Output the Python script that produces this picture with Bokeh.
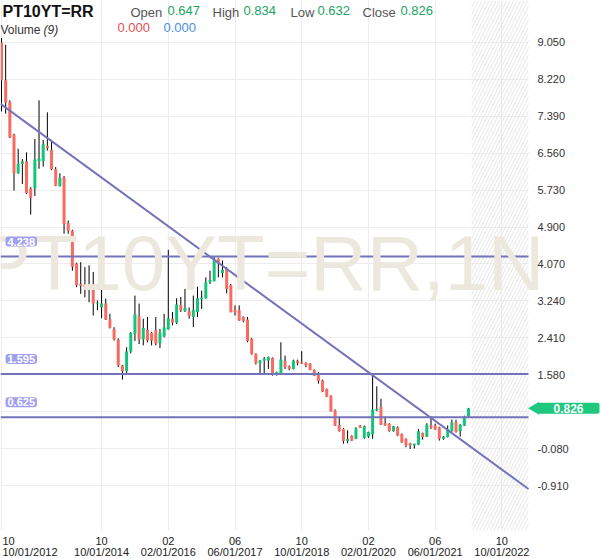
import math
import pandas as pd
from bokeh.plotting import figure
from bokeh.models import (Range1d, FixedTicker, Label, ColumnDataSource, LinearAxis,
                          PrintfTickFormatter)
from bokeh.embed import file_html
from bokeh.resources import INLINE

# ---------------- data ----------------
months = pd.date_range("2012-10-01", periods=113, freq="MS")

opens = [9.05, 8.20, 7.71, 6.98, 6.11, 6.32, 6.38, 5.77, 5.77, 6.38,
         6.38, 6.73, 6.64, 6.20, 5.82, 6.02, 4.99, 4.82, 4.08, 3.62,
         3.60, 3.60, 3.59, 3.18, 3.09, 3.18, 2.83, 2.61, 2.37, 1.79,
         1.66, 2.10, 2.50, 2.90, 2.37, 2.59, 2.52, 2.58, 2.29, 2.44,
         2.60, 2.84, 2.75, 3.14, 3.01, 3.01, 2.88, 2.99, 3.27, 3.30,
         3.66, 3.68, 4.19, 3.86, 3.96, 3.60, 3.04, 3.03, 2.88, 2.82,
         2.39, 2.05, 1.84, 1.90, 1.90, 1.96, 1.59, 1.60, 1.89, 1.77,
         1.71, 1.90, 1.86, 1.85, 1.83, 1.69, 1.62, 1.45, 1.26, 1.11,
         0.78, 0.45, 0.36, 0.09, 0.21, 0.14, 0.44, 0.16, 0.19, 0.24,
         0.78, 0.85, 0.49, 0.48, 0.31, 0.40, 0.25, 0.14, 0.04, -0.01,
         0.01, 0.27, 0.19, 0.44, 0.44, 0.40, 0.14, 0.18, 0.31, 0.51,
         0.31, 0.44, 0.647]
highs = [9.15, 9.00, 7.75, 7.00, 6.66, 6.43, 6.58, 5.80, 6.88, 7.75,
         6.86, 7.48, 6.86, 6.25, 6.11, 6.05, 5.05, 4.84, 4.10, 4.11,
         4.00, 4.04, 3.89, 3.25, 3.55, 3.29, 2.95, 2.65, 2.40, 1.80,
         2.20, 2.54, 3.36, 3.18, 2.84, 2.88, 2.54, 2.88, 2.61, 2.95,
         4.39, 2.99, 3.30, 3.33, 3.51, 3.09, 3.36, 3.56, 3.47, 3.77,
         3.92, 4.22, 4.20, 4.15, 4.00, 3.62, 3.14, 3.14, 2.89, 2.88,
         2.41, 2.06, 1.91, 1.98, 1.99, 1.97, 1.65, 2.31, 2.01, 1.79,
         1.92, 1.92, 2.11, 1.86, 1.84, 1.70, 1.64, 1.47, 1.27, 1.12,
         0.80, 0.64, 0.38, 0.33, 0.22, 0.40, 0.45, 0.44, 0.30, 1.56,
         1.32, 1.04, 0.64, 0.49, 0.43, 0.42, 0.26, 0.15, 0.05, 0.03,
         0.36, 0.28, 0.49, 0.64, 0.48, 0.41, 0.20, 0.44, 0.57, 0.57,
         0.47, 0.66, 0.834]
lows = [7.50, 7.45, 6.90, 5.72, 6.10, 5.87, 5.64, 5.18, 5.60, 6.21,
        6.26, 6.62, 6.18, 5.82, 5.81, 4.75, 4.75, 3.92, 3.55, 3.40,
        3.32, 3.21, 2.91, 3.03, 2.85, 2.81, 2.62, 2.35, 1.75, 1.47,
        1.58, 2.06, 2.34, 2.27, 2.24, 2.31, 2.24, 2.24, 2.18, 2.42,
        2.60, 2.69, 2.72, 2.99, 2.99, 2.84, 2.65, 2.88, 3.06, 3.29,
        3.62, 3.68, 3.77, 3.77, 3.41, 2.98, 2.91, 2.79, 2.76, 2.31,
        2.03, 1.81, 1.59, 1.59, 1.71, 1.56, 1.56, 1.59, 1.71, 1.68,
        1.70, 1.79, 1.82, 1.75, 1.68, 1.55, 1.38, 1.19, 1.08, 0.75,
        0.43, 0.30, 0.03, 0.04, 0.09, 0.13, 0.38, 0.14, 0.16, 0.14,
        0.76, 0.45, 0.43, 0.30, 0.30, 0.20, 0.05, -0.05, -0.09, -0.08,
        0.00, 0.12, 0.18, 0.36, 0.34, 0.10, 0.12, 0.17, 0.30, 0.28,
        0.19, 0.43, 0.632]
closes = [8.20, 7.70, 6.92, 6.11, 6.32, 6.38, 5.66, 5.56, 6.42, 6.44,
          6.76, 6.68, 6.20, 5.83, 6.01, 4.97, 4.81, 4.01, 3.59, 3.58,
          3.56, 3.57, 3.18, 3.20, 3.18, 2.82, 2.64, 2.37, 1.79, 1.66,
          2.10, 2.52, 2.94, 2.37, 2.63, 2.35, 2.35, 2.28, 2.52, 2.64,
          2.85, 2.75, 3.16, 3.03, 3.08, 2.90, 3.04, 3.30, 3.31, 3.66,
          3.71, 4.16, 4.07, 3.94, 3.51, 2.99, 2.98, 2.80, 2.79, 2.34,
          2.04, 1.84, 1.90, 1.94, 1.98, 1.59, 1.64, 1.92, 1.75, 1.71,
          1.90, 1.84, 1.83, 1.79, 1.69, 1.56, 1.44, 1.20, 1.09, 0.76,
          0.44, 0.31, 0.09, 0.14, 0.10, 0.38, 0.39, 0.42, 0.29, 0.80,
          0.81, 0.46, 0.44, 0.31, 0.42, 0.21, 0.06, -0.01, -0.01, 0.03,
          0.31, 0.18, 0.46, 0.39, 0.35, 0.14, 0.19, 0.36, 0.51, 0.29,
          0.46, 0.64, 0.826]

levels = [4.238, 1.595, 0.625]           # horizontal trend levels
trend_x = [0, 104]                      # diagonal trend anchors (month index)
trend_y = [7.654, 0.541]

y_ticks = [-0.91, -0.08, 0.75, 1.58, 2.41, 3.24, 4.07, 4.90, 5.73, 6.56, 7.39, 8.22, 9.05]
x_ticks = [0, 24, 40, 56, 72, 88, 104, 120]
x_tick_top = ["10", "10", "02", "06", "10", "02", "06", "10"]
x_tick_bottom = ["10/01/2012", "10/01/2014", "02/01/2016", "06/01/2017",
                 "10/01/2018", "02/01/2020", "06/01/2021", "10/01/2022"]

symbol = "PT10YT=RR"
header_vals = {"Open": "0.647", "High": "0.834", "Low": "0.632", "Close": "0.826"}
last_price = closes[-1]

# ---------------- figure ----------------
RED = "#f86b60"
GREEN = "#15c47b"
TXT_GREEN = "#1aa363"
LINE = "#7373ba"
FONT = "Liberation Sans"
W, H = 600, 558

# full-canvas frame; axes pinned inside it with fixed_location
xs, xe = -0.24, 143.65       # data x at canvas left / right
xr = 126.38                  # data x at the right edge of the price area
ys, ye = -2.551, 9.994       # data y at canvas bottom / top
yb = -1.921                  # data y at the bottom edge of the price area
px_per_x = W / (xe - xs)

p = figure(width=W, height=H, output_backend="svg", toolbar_location=None,
           x_range=Range1d(xs, xe), y_range=Range1d(ys, ye),
           x_axis_location=None, y_axis_location=None,
           min_border=0)
p.outline_line_color = None
p.background_fill_color = "white"
p.border_fill_color = "white"

# grids
p.xgrid.ticker = FixedTicker(ticks=x_ticks)
p.ygrid.ticker = FixedTicker(ticks=y_ticks)
p.xgrid.grid_line_color = "#ededed"
p.ygrid.grid_line_color = "#ededed"

# hide the grid outside the price area
p.quad(left=[xr, xs], right=[xe, xr], bottom=[ys, ys], top=[ye, yb],
       fill_color="white", line_color=None)

# future hatched zone
n = len(months)
p.quad(left=[n - 1 + 0.75], right=[xr], bottom=[yb], top=[ye],
       fill_alpha=0, line_alpha=0, hatch_pattern="/", hatch_color="#e6e6e6",
       hatch_scale=7, hatch_weight=1)

# watermark
p.add_layout(Label(x=261, y=H - 262, x_units="screen", y_units="screen", text=symbol + ",1N",
                   text_font=FONT, text_font_size="78px", text_color="#ece8dd",
                   text_align="center", text_baseline="middle", level="glyph"))

# candles
idx = list(range(n))
colors = [GREEN if c >= o else RED for o, c in zip(opens, closes)]
src = ColumnDataSource(dict(x=idx, o=opens, h=highs, l=lows, c=closes, col=colors,
                            top=[max(o, c) for o, c in zip(opens, closes)],
                            bot=[min(o, c) for o, c in zip(opens, closes)]))
p.segment(x0="x", x1="x", y0="l", y1="h", source=src, line_color="black", line_width=1)
p.vbar(x="x", width=0.72, top="top", bottom="bot", source=src,
       fill_color="col", line_color=None)

# trend lines (limited to the price area)
p.segment(x0=[xs] * len(levels), x1=[xr] * len(levels), y0=levels, y1=levels,
          line_color=LINE, line_width=2)
grad = (trend_y[1] - trend_y[0]) / (trend_x[1] - trend_x[0])
icpt = trend_y[0] - grad * trend_x[0]
p.segment(x0=[xs], x1=[xr], y0=[icpt + grad * xs], y1=[icpt + grad * xr],
          line_color=LINE, line_width=2)

for lv in levels:
    p.add_layout(Label(x=xs, y=lv, x_offset=5, y_offset=10, text=f"{lv:.3f}",
                       text_font=FONT, text_font_size="11px", text_font_style="bold",
                       text_color="white", text_baseline="bottom",
                       background_fill_color="#a0a0f3", border_radius=3,
                       padding=(2, 2, 1, 1)))

# y axis (right of price area)
yax = LinearAxis(fixed_location=xr,
                 ticker=FixedTicker(ticks=[t for t in y_ticks if abs(t - 0.75) > 1e-6]),
                 formatter=PrintfTickFormatter(format="%.3f"))
yax.axis_line_color = None
yax.major_tick_line_color = None
yax.minor_tick_line_color = None
yax.major_tick_out = 0
yax.major_label_text_font = FONT
yax.major_label_text_font_size = "11px"
yax.major_label_text_color = "#333333"
yax.major_label_standoff = 9
p.add_layout(yax, "right")

# x axes (two label rows)
for labels, stand in ((x_tick_top, 7), (x_tick_bottom, 16)):
    xax = LinearAxis(fixed_location=yb, ticker=FixedTicker(ticks=x_ticks))
    ov = {t: lab for t, lab in zip(x_ticks, labels)}
    ov[x_ticks[0]] = ""
    xax.major_label_overrides = ov
    xax.axis_line_color = None
    xax.major_tick_line_color = None
    xax.minor_tick_line_color = None
    xax.major_tick_out = 0
    xax.major_label_text_font = FONT
    xax.major_label_text_font_size = "11px"
    xax.major_label_text_color = "#222222"
    xax.major_label_standoff = stand
    p.add_layout(xax, "below")
    # first tick label, left aligned at the canvas edge
    p.add_layout(Label(x=x_ticks[0], y=yb, x_offset=1, y_offset=-stand, text=labels[0],
                       text_font=FONT, text_font_size="11px", text_color="#222222",
                       text_baseline="top"))

# last price label on axis (pointer + box)
p.scatter(x=[xr + 7 / px_per_x], y=[last_price], marker="triangle", size=13,
          angle=math.pi / 2, fill_color="#1ec97f", line_color=None)
p.add_layout(Label(x=568, y=last_price, x_units="screen", text=f"{last_price:.3f}",
                   text_font=FONT, text_font_size="12px", text_font_style="bold",
                   text_color="white", text_align="center", text_baseline="middle",
                   background_fill_color="#1ec97f", border_radius=2,
                   padding=(16, 16, 1, 1)))

# header
p.add_layout(Label(x=2, y=H - 11, x_units="screen", y_units="screen", text=symbol,
                   text_font=FONT, text_font_size="16px", text_font_style="bold",
                   text_color="#111111", text_baseline="middle"))
hx = [(130, 167), (212, 243), (290, 317), (362, 400)]
for (lx, vx), (k, v) in zip(hx, header_vals.items()):
    p.add_layout(Label(x=lx, y=H - 12, x_units="screen", y_units="screen", text=k,
                       text_font=FONT, text_font_size="13px", text_color="#555555",
                       text_baseline="middle"))
    p.add_layout(Label(x=vx, y=H - 10, x_units="screen", y_units="screen", text=v,
                       text_font=FONT, text_font_size="13px", text_color=TXT_GREEN,
                       text_baseline="middle"))
p.add_layout(Label(x=0, y=H - 29, x_units="screen", y_units="screen", text="Volume",
                   text_font=FONT, text_font_size="12px", text_color="#333333",
                   text_baseline="middle"))
p.add_layout(Label(x=43, y=H - 29, x_units="screen", y_units="screen", text="(9)",
                   text_font=FONT, text_font_size="12px", text_font_style="italic",
                   text_color="#333333", text_baseline="middle"))
p.add_layout(Label(x=117, y=H - 27, x_units="screen", y_units="screen", text="0.000",
                   text_font=FONT, text_font_size="13px", text_color="#e05050",
                   text_baseline="middle"))
p.add_layout(Label(x=163, y=H - 27, x_units="screen", y_units="screen", text="0.000",
                   text_font=FONT, text_font_size="13px", text_color="#4a8ee6",
                   text_baseline="middle"))

open("out.html", "w").write(file_html(p, INLINE))
